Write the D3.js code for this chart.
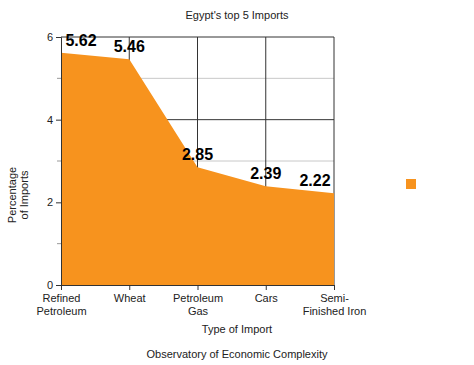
<!DOCTYPE html>
<html>
<head>
<meta charset="utf-8">
<script src="https://cdn.jsdelivr.net/npm/d3@7"></script>
<style>
  body { margin: 0; background: #fff; }
  svg { font-family: "Liberation Sans", Arial, sans-serif; }
</style>
</head>
<body>
<svg id="chart" width="474" height="365"></svg>
<script>
// data
const categories = [['Refined', 'Petroleum'], ['Wheat'], ['Petroleum', 'Gas'], ['Cars'], ['Semi-', 'Finished Iron']];
const values = [5.62, 5.46, 2.85, 2.39, 2.22];
const yTicks = [0, 2, 4, 6];
const yMinor = [1, 3, 5];

const svg = d3.select('#chart');
const W = 474;
const margin = { top: 37, left: 61, right: 140, bottom: 80 };
const width = 334 - margin.left;
const height = 285 - margin.top;

const x = d3.scalePoint()
  .domain(d3.range(values.length))
  .range([0, width]);

const y = d3.scaleLinear()
  .domain([0, 6])
  .range([height, 0]);

const g = svg.append('g')
  .attr('transform', `translate(${margin.left},${margin.top})`);

// light grid at odd values
g.selectAll('.minor')
  .data(yMinor)
  .join('line')
  .attr('x1', 0).attr('x2', width)
  .attr('y1', d => y(d)).attr('y2', d => y(d))
  .attr('stroke', '#c8c8c8').attr('stroke-width', 1);

// dark grid
g.selectAll('.major')
  .data(yTicks.filter(d => d > 0))
  .join('line')
  .attr('x1', 0).attr('x2', width)
  .attr('y1', d => y(d)).attr('y2', d => y(d))
  .attr('stroke', '#333').attr('stroke-width', 1);

g.selectAll('.vgrid')
  .data(d3.range(1, values.length))
  .join('line')
  .attr('x1', d => x(d)).attr('x2', d => x(d))
  .attr('y1', 0).attr('y2', height)
  .attr('stroke', '#333').attr('stroke-width', 1);

// area
const area = d3.area()
  .x((d, i) => x(i))
  .y0(height)
  .y1(d => y(d));

g.append('path')
  .datum(values)
  .attr('d', area)
  .attr('fill', '#f7931e');

// y axis
const yAxis = d3.axisLeft(y).tickValues(yTicks).tickFormat(d3.format('d')).tickSize(5).tickPadding(3);
const ya = g.append('g').call(yAxis);
ya.selectAll('text').attr('font-size', 11).attr('fill', '#222').attr('font-family', 'Liberation Sans, Arial, sans-serif');
ya.select('.domain').attr('stroke', '#333');
ya.selectAll('.tick line').attr('stroke', '#333');

g.selectAll('.ymin')
  .data(yMinor)
  .join('line')
  .attr('x1', -4).attr('x2', 0)
  .attr('y1', d => y(d)).attr('y2', d => y(d))
  .attr('stroke', '#999');

// x axis
const xAxis = d3.axisBottom(x).tickSize(5).tickFormat('');
const xa = g.append('g').attr('transform', `translate(0,${height})`).call(xAxis);
xa.select('.domain').attr('stroke', '#333');
xa.selectAll('.tick line').attr('stroke', '#333');

xa.selectAll('.tick')
  .append('text')
  .attr('text-anchor', 'middle')
  .attr('font-size', 11)
  .attr('fill', '#222')
  .selectAll('tspan')
  .data((d, i) => categories[i])
  .join('tspan')
  .attr('x', 0)
  .attr('y', (d, i) => 17 + i * 13)
  .text(d => d);

// value labels
g.selectAll('.val')
  .data(values)
  .join('text')
  .attr('x', (d, i) => {
    if (i === 0) return x(i) + 20;
    if (i === values.length - 1) return x(i) - 19;
    return x(i);
  })
  .attr('y', d => y(d) - 7)
  .attr('text-anchor', 'middle')
  .attr('font-size', 16)
  .attr('font-weight', 'bold')
  .attr('fill', '#000')
  .text(d => d.toFixed(2));

// titles
svg.append('text')
  .attr('x', W / 2).attr('y', 19)
  .attr('text-anchor', 'middle')
  .attr('font-size', 11)
  .attr('fill', '#222')
  .text("Egypt's top 5 Imports");

svg.append('text')
  .attr('x', W / 2).attr('y', 333)
  .attr('text-anchor', 'middle')
  .attr('font-size', 11)
  .attr('fill', '#222')
  .text('Type of Import');

svg.append('text')
  .attr('x', W / 2).attr('y', 358)
  .attr('text-anchor', 'middle')
  .attr('font-size', 11)
  .attr('fill', '#222')
  .text('Observatory of Economic Complexity');

const yt = svg.append('text')
  .attr('transform', 'translate(16,195) rotate(-90)')
  .attr('text-anchor', 'middle')
  .attr('font-size', 11)
  .attr('fill', '#222');
yt.append('tspan').attr('x', 0).attr('y', 0).text('Percentage');
yt.append('tspan').attr('x', 0).attr('y', 12).text('of Imports');

// legend
svg.append('rect')
  .attr('x', 406).attr('y', 179)
  .attr('width', 10).attr('height', 10)
  .attr('fill', '#f7931e');
</script>
</body>
</html>
